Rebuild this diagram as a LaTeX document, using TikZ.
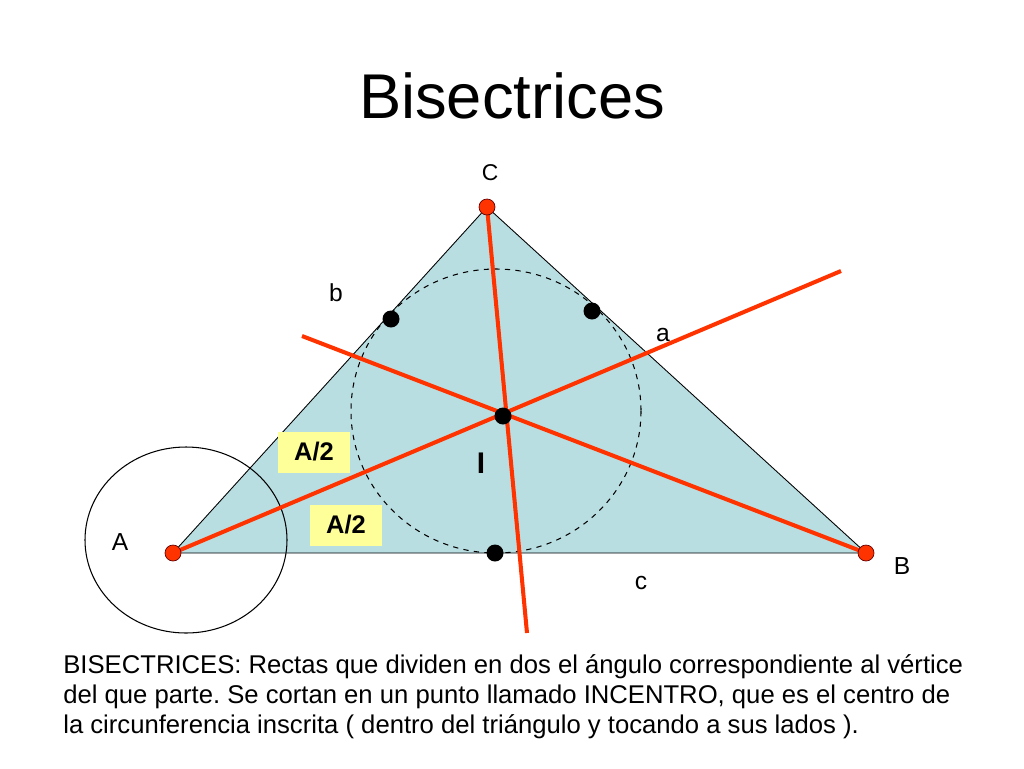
\documentclass[tikz,border=0pt]{standalone}
\usepackage{fontspec}
\setmainfont{Liberation Sans}
\frenchspacing
\definecolor{fondo}{RGB}{185,222,226}
\definecolor{rojo}{RGB}{255,51,0}
\definecolor{amarillo}{RGB}{255,255,153}
\begin{document}
\begin{tikzpicture}[x=0.02cm,y=-0.02cm,
  bisec/.style={rojo,line width=2.3pt},
  vertice/.style={circle,fill=rojo,draw=black!60!red,line width=0.4pt,
    inner sep=0pt,minimum size=0.32cm},
  punto/.style={circle,fill=black,inner sep=0pt,minimum size=0.34cm},
  caja/.style={fill=amarillo,font=\bfseries\fontsize{14.5}{16}\selectfont,
    minimum width=1.46cm,minimum height=0.82cm},
  etiq/.style={font=\fontsize{14}{16}\selectfont},
  texto/.style={anchor=base west,inner sep=0pt,font=\fontsize{14.6}{17}\selectfont}]
\useasboundingbox (0,0) rectangle (1024,768);
\node[anchor=base,font=\fontsize{36}{40}\selectfont] (titulo) at (512,118) {Bisectrices};
\coordinate (A) at (173,553);
\coordinate (B) at (866,553);
\coordinate (C) at (487,207);
\coordinate (I) at (503,416);
\draw[fill=fondo,line width=0.5pt] (A) -- (B) -- (C) -- cycle;
\draw[line width=0.6pt] (186,540) ellipse[x radius=101,y radius=93];
\draw[dashed,line width=0.6pt] (496,411) ellipse[x radius=145,y radius=142];
% bisectrices
\coordinate (finA) at (841,271);
\coordinate (finB) at (302,336);
\coordinate (finC) at (527,633);
\draw[bisec] (A) -- (finA);
\draw[bisec] (B) -- (finB);
\draw[bisec] (C) -- (finC);
\node[caja] (mitad1) at (314,452) {A/2};
\node[caja] (mitad2) at (346,525) {A/2};
\node[font=\bfseries\fontsize{17}{20}\selectfont] (incentro) at (481,463) {I};
\node[punto] (tb) at (391,319) {};
\node[punto] (ta) at (592,311) {};
\node[punto] (tc) at (495,553) {};
\node[punto] (pI) at (I) {};
\node[vertice] (pA) at (A) {};
\node[vertice] (pB) at (B) {};
\node[vertice] (pC) at (C) {};
\node[etiq,font=\fontsize{13}{15}\selectfont] (lC) at (490,173) {C};
\node[etiq] (lA) at (120,542) {A};
\node[etiq] (lB) at (902,566) {B};
\node[etiq] (lb) at (336,293) {b};
\node[etiq] (la) at (663,335) {a};
\node[etiq] (lc) at (641,583) {c};
\node[texto] (linea1) at (63,673) {BISECTRICES: Rectas que dividen en dos el ángulo correspondiente al vértice};
\node[texto] (linea2) at (63,703) {del que parte. Se cortan en un punto llamado INCENTRO, que es el centro de};
\node[texto] (linea3) at (63,733) {la circunferencia inscrita ( dentro del triángulo y tocando a sus lados ).};
\end{tikzpicture}
\end{document}
